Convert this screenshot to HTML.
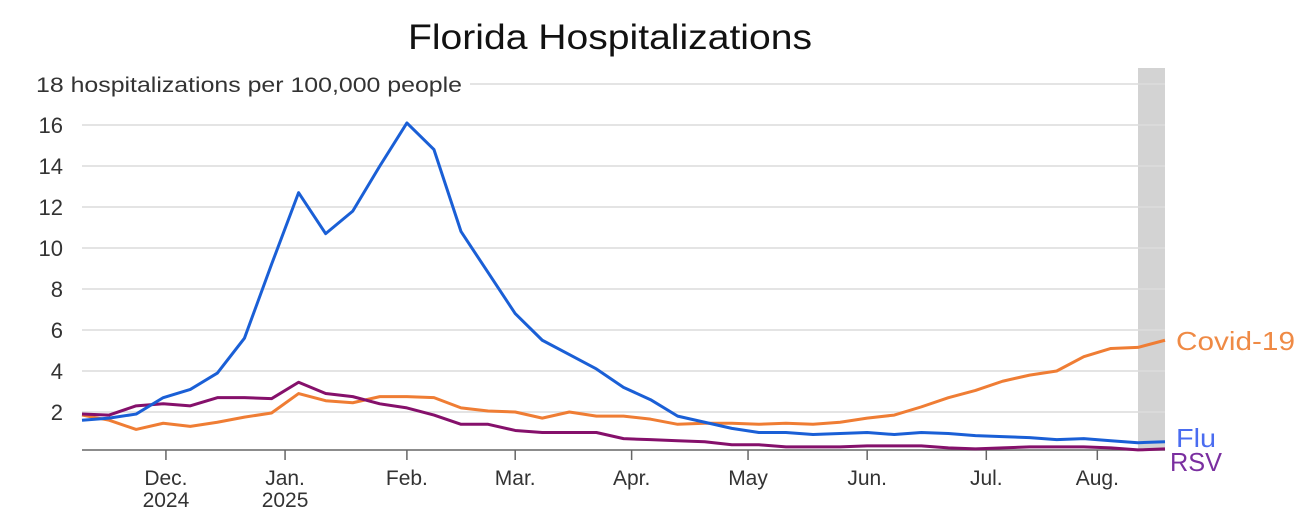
<!DOCTYPE html>
<html><head><meta charset="utf-8"><style>
body{margin:0;background:#fff;}
svg{display:block;font-family:"Liberation Sans",sans-serif;}
</style></head><body>
<svg id="c" width="1308" height="532">
<text x="408" y="49" textLength="404" lengthAdjust="spacingAndGlyphs" font-size="35" fill="#111">Florida Hospitalizations</text>
<rect x="1138" y="68" width="27" height="382" fill="#d3d3d3"/>
<g id="grid"></g><g id="xaxis"></g><g id="lines"></g>
<text x="1176" y="350" textLength="119" lengthAdjust="spacingAndGlyphs" font-size="26" fill="#ef8a45">Covid-19</text>
<text x="1176" y="447" textLength="40" lengthAdjust="spacingAndGlyphs" font-size="26" fill="#4a6cf0">Flu</text>
<text x="1170" y="471" textLength="52" lengthAdjust="spacingAndGlyphs" font-size="26" fill="#7a2fa0">RSV</text>
</svg>
<script>
const yTicks=[2,4,6,8,10,12,14,16,18];
const monthLabels=["Dec.","Jan.","Feb.","Mar.","Apr.","May","Jun.","Jul.","Aug."];
const monthWeekPos=[3.1,7.5,12,16,20.3,24.6,29,33.4,37.5];
const yearLabels=["2024","2025"];
const flu=[1.6,1.7,1.9,2.7,3.1,3.9,5.6,9.2,12.7,10.7,11.8,14.0,16.1,14.8,10.8,8.8,6.8,5.5,4.8,4.1,3.2,2.6,1.8,1.5,1.2,1.0,1.0,0.9,0.95,1.0,0.9,1.0,0.95,0.85,0.8,0.75,0.65,0.7,0.6,0.5,0.55];
const covid=[1.85,1.6,1.15,1.45,1.3,1.5,1.75,1.95,2.9,2.55,2.45,2.75,2.75,2.7,2.2,2.05,2.0,1.7,2.0,1.8,1.8,1.65,1.4,1.45,1.45,1.4,1.45,1.4,1.5,1.7,1.85,2.25,2.7,3.05,3.5,3.8,4.0,4.7,5.1,5.15,5.5];
const rsv=[1.9,1.85,2.3,2.4,2.3,2.7,2.7,2.65,3.45,2.9,2.75,2.4,2.2,1.85,1.4,1.4,1.1,1.0,1.0,1.0,0.7,0.65,0.6,0.55,0.4,0.4,0.3,0.3,0.3,0.35,0.35,0.35,0.25,0.2,0.25,0.3,0.3,0.3,0.25,0.15,0.2];
const NS="http://www.w3.org/2000/svg";
const x=i=>82+i*(1165-82)/40;
const y=v=>453-v*20.5;
function mk(tag,attrs,parent,txt){const e=document.createElementNS(NS,tag);for(const k in attrs)e.setAttribute(k,attrs[k]);if(txt!=null)e.textContent=txt;parent.appendChild(e);return e;}
const grid=document.getElementById('grid');
yTicks.forEach(t=>{
  const g=mk('line',{x1:t===18?470:82,x2:1165,y1:y(t),y2:y(t),stroke:'#dcdcdc','stroke-width':1.5},grid);
  
  
  const a={x:t===18?36:63,y:y(t)+8,'text-anchor':t===18?'start':'end','font-size':22,fill:'#333'};
  if(t===18){a.textLength=426;a.lengthAdjust='spacingAndGlyphs';a['font-size']=21;}
  const lb=mk('text',a,grid,t===18?'18 hospitalizations per 100,000 people':String(t));
  
  
});
const xa=document.getElementById('xaxis');
const ax=mk('line',{x1:82,x2:1165,y1:450,y2:450,stroke:'#666','stroke-width':1.5},xa);


monthLabels.forEach((m,k)=>{
  const px=x(monthWeekPos[k]);
  const t=mk('line',{x1:px,x2:px,y1:450,y2:460,stroke:'#666','stroke-width':1.5},xa);
  
  
  const l=mk('text',{x:px,y:485,'text-anchor':'middle','font-size':21,fill:'#333'},xa,m);
  
  
  if(k<2){const yl=mk('text',{x:px,y:507,'text-anchor':'middle','font-size':21,fill:'#333'},xa,yearLabels[k]);
  
  }
});
const lines=document.getElementById('lines');
[[covid,'#ef7d34','covid-line'],[rsv,'#85106b','rsv-line'],[flu,'#1a5fd6','flu-line']].forEach(([d,c,n])=>{
  const p=mk('polyline',{points:d.map((v,i)=>x(i)+','+y(v)).join(' '),fill:'none',stroke:c,'stroke-width':3,'stroke-linejoin':'round'},lines);
  
  
});
</script>
</body></html>
